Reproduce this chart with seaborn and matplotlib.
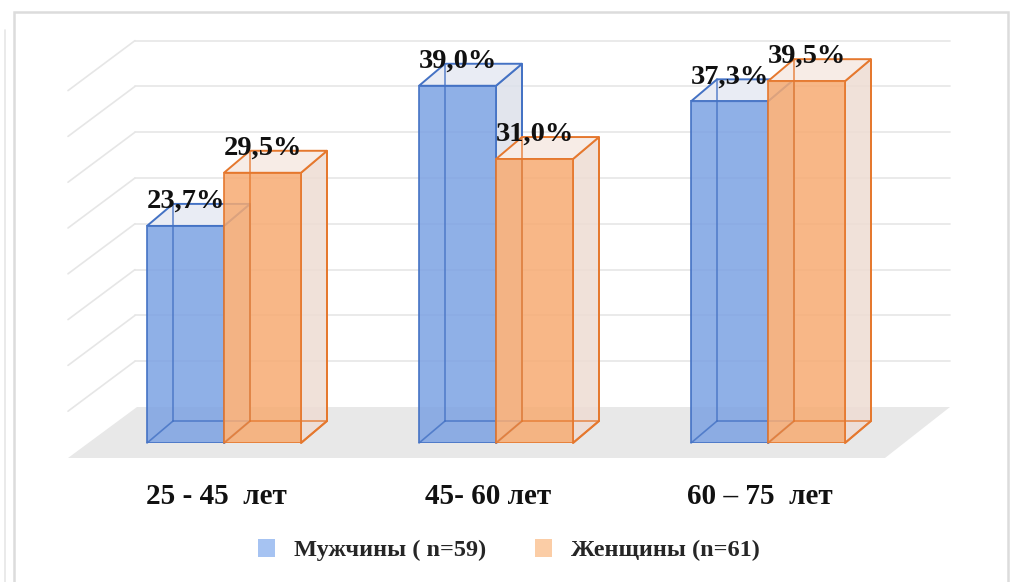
import numpy as np
import pandas as pd
import matplotlib
matplotlib.use("Agg")
import matplotlib.pyplot as plt
import seaborn as sns
from matplotlib.patches import Polygon, Rectangle, Patch
from matplotlib.lines import Line2D
from matplotlib.transforms import ScaledTranslation, IdentityTransform

# ---- data ----
categories = ["25 - 45  лет", "45- 60 лет", "60 – 75  лет"]
series = ["Мужчины ( n=59)", "Женщины (n=61)"]
men = [23.7, 39.0, 37.3]
women = [29.5, 31.0, 39.5]
grid_values = [5, 10, 15, 20, 25, 30, 35, 40]

df = pd.DataFrame({
    "age": categories * 2,
    "sex": [series[0]] * 3 + [series[1]] * 3,
    "value": men + women,
})

sns.set_theme(style="white")
plt.rcParams["font.family"] = ["Liberation Serif", "DejaVu Serif"]

W, H, DPI = 1024, 582, 100
fig = plt.figure(figsize=(W / DPI, H / DPI), dpi=DPI)
ax = fig.add_axes([0, (H - 443) / H, 1, 443 / H])
ax.patch.set_alpha(0)

front_cols = ["#7CA2E3", "#F7AB72"]
edge_cols = ["#4472C4", "#E5782E"]
top_cols = ["#E9ECF4", "#F7ECE6"]
side_cols = ["#DDE1EA", "#EEDCD3"]

sns.barplot(data=df, x="age", y="value", hue="sex", order=categories,
            hue_order=series, palette=front_cols, saturation=1, width=0.566,
            edgecolor="none", linewidth=0, alpha=0.85, legend=False, ax=ax)
bars = list(ax.patches)

ax.set_xlim(-224 / 272, (W - 224) / 272)
ax.set_ylim(0, 443 / 9.16)
ax.autoscale(False)
for s in ax.spines.values():
    s.set_visible(False)
ax.set_yticks([])
ax.set_ylabel("")
ax.set_xlabel("")
ax.set_xticks(range(len(categories)))
ax.set_xticklabels(categories, fontsize=21, fontweight="bold", color="#111111")
ax.tick_params(axis="x", length=0, pad=29)
for lbl in ax.get_xticklabels():
    lbl.set_transform(lbl.get_transform() + ScaledTranslation(-0.08, 0, fig.dpi_scale_trans))

fig.canvas.draw()
ident = IdentityTransform()

def add(artist):
    ax.add_artist(artist)
    artist.set_clip_on(False)
    return artist

def dpx(x, y_from_top):
    return (x, H - y_from_top)

# floor
add(Polygon([dpx(137, 407), dpx(950, 407), dpx(885, 458), dpx(68, 458)],
            closed=True, transform=ident, facecolor="#E8E8E8", edgecolor="none", zorder=0.3))

# back-wall gridlines and side-wall diagonals
for v in grid_values:
    yd = ax.transData.transform((0, v))[1] + 36
    add(Line2D([135, 950], [yd, yd], transform=ident, color="#E6E6E6", lw=1.2, zorder=0.2))
    add(Line2D([135, 68], [yd, yd - 50], transform=ident, color="#E6E6E6", lw=1.2, zorder=0.2))

# frame
fig.patches.append(Rectangle((14, -5), 994, H - 12 + 5, transform=ident, fill=False,
                             edgecolor="#DCDCDC", lw=1.8, zorder=0.1))
fig.lines.append(Line2D([5, 5], [0, H - 30], transform=ident, color="#E6E6E6", lw=1.2))

# pseudo-3D faces from the library's bars
dx, dy = 26, 22
n = len(categories)
for i, p in enumerate(bars):
    k = i // n
    base_z = 2 + k * 2
    p.set_zorder(base_z + 0.5)
    p.set_edgecolor(edge_cols[k])
    p.set_linewidth(1.4)
    x0, w, h = p.get_x(), p.get_width(), p.get_height()
    X0, Y0 = ax.transData.transform((x0, 0))
    X1, Yt = ax.transData.transform((x0 + w, h))
    add(Polygon([(X1, Y0), (X1 + dx, Y0 + dy), (X1 + dx, Yt + dy), (X1, Yt)], closed=True,
                transform=ident, facecolor=side_cols[k], edgecolor=edge_cols[k], lw=1.4,
                alpha=0.85, zorder=base_z))
    add(Polygon([(X0, Yt), (X1, Yt), (X1 + dx, Yt + dy), (X0 + dx, Yt + dy)], closed=True,
                transform=ident, facecolor=top_cols[k], edgecolor=edge_cols[k], lw=1.4,
                zorder=base_z + 0.1))
    # hidden edges seen through
    for xs, ys in [([X0 + dx, X0 + dx], [Y0 + dy, Yt + dy]),
                   ([X0 + dx, X1 + dx], [Y0 + dy, Y0 + dy]),
                   ([X0, X0 + dx], [Y0, Y0 + dy])]:
        add(Line2D(xs, ys, transform=ident, color=edge_cols[k], lw=1.2,
                   alpha=0.8, zorder=base_z + 0.7))
    # visible edges of the side face (re-stroke above front)
    add(Line2D([X1, X1 + dx, X1 + dx], [Y0, Y0 + dy, Yt + dy], transform=ident,
               color=edge_cols[k], lw=1.4, zorder=base_z + 0.6))
    lab = f"{h:.1f}".replace(".", ",") + "%"
    ax.annotate(lab, (x0 + w / 2, h), xytext=(0, 13), textcoords="offset points",
                ha="center", va="baseline", fontsize=20.5, fontweight="bold",
                color="#111111", zorder=10)

handles = [Patch(facecolor="#A6C3F2", edgecolor="none"),
           Patch(facecolor="#FBCDA6", edgecolor="none")]
fig.legend(handles, series, loc="center", bbox_to_anchor=(0.497, 0.055), ncol=2,
           frameon=False, handlelength=0.7, handleheight=0.75, columnspacing=2.0,
           handletextpad=0.8, prop={"size": 17.5, "weight": "bold"})

fig.savefig("out.png", dpi=DPI, facecolor="white")
